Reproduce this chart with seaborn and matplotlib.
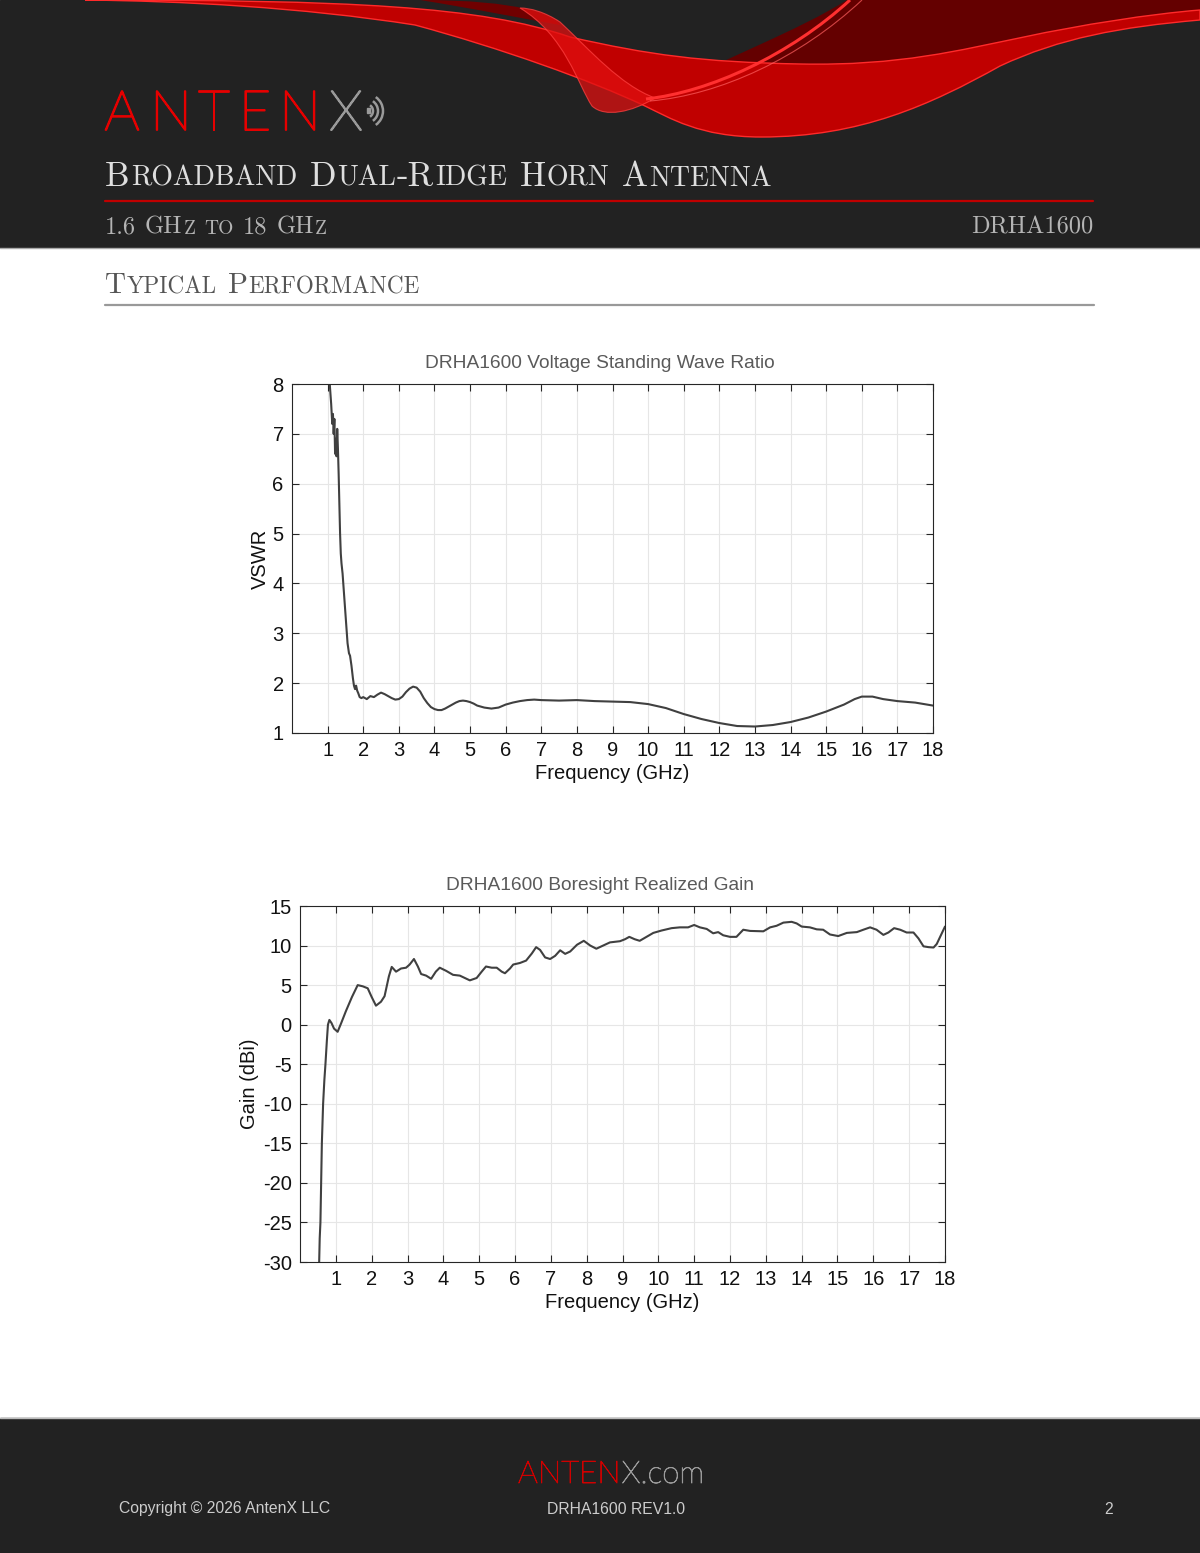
import numpy as np
import pandas as pd
import seaborn as sns
import matplotlib.pyplot as plt
import matplotlib.patheffects as pe
from matplotlib.patches import Rectangle, PathPatch, Arc
from matplotlib.path import Path

# VSWR curve
vswr_freq = [1.03, 1.06, 1.10, 1.13, 1.15, 1.17, 1.19, 1.21, 1.23, 1.25, 1.27, 1.29,
             1.31, 1.33, 1.35, 1.37, 1.39, 1.42, 1.45, 1.48, 1.52, 1.56, 1.60, 1.63,
             1.67, 1.71, 1.74, 1.77, 1.80, 1.83, 1.86, 1.90, 1.95, 2.0, 2.1, 2.2, 2.3,
             2.4, 2.5, 2.6, 2.7, 2.8, 2.9, 3.0, 3.1, 3.2, 3.3, 3.4, 3.5, 3.6, 3.7, 3.8,
             3.9, 4.0, 4.1, 4.2, 4.3, 4.4, 4.5, 4.6, 4.7, 4.8, 4.9, 5.0, 5.1, 5.2, 5.3,
             5.4, 5.5, 5.6, 5.7, 5.8, 5.9, 6.0, 6.2, 6.4, 6.6, 6.8, 7.0, 7.5, 8.0, 8.5,
             9.0, 9.5, 10.0, 10.5, 11.0, 11.5, 12.0, 12.5, 13.0, 13.5, 14.0, 14.5, 15.0,
             15.5, 15.8, 16.0, 16.3, 16.6, 17.0, 17.5, 18.0]
vswr_vals = [8.5, 8.0, 7.6, 7.2, 7.4, 7.0, 7.3, 6.6, 6.9, 6.55, 7.1, 6.7,
             6.2, 5.6, 5.0, 4.6, 4.4, 4.2, 3.9, 3.6, 3.2, 2.8, 2.6, 2.55,
             2.35, 2.1, 1.95, 1.88, 1.95, 1.85, 1.8, 1.72, 1.70, 1.72, 1.68, 1.74, 1.72,
             1.77, 1.81, 1.78, 1.74, 1.70, 1.67, 1.68, 1.73, 1.82, 1.89, 1.93, 1.91, 1.83, 1.70, 1.60,
             1.52, 1.48, 1.46, 1.46, 1.49, 1.53, 1.57, 1.61, 1.64, 1.65, 1.64, 1.62, 1.59, 1.55, 1.53,
             1.51, 1.50, 1.49, 1.50, 1.51, 1.54, 1.57, 1.61, 1.64, 1.66, 1.67, 1.66, 1.65, 1.66, 1.64,
             1.63, 1.62, 1.58, 1.50, 1.38, 1.28, 1.20, 1.14, 1.13, 1.16, 1.22, 1.31, 1.43,
             1.57, 1.68, 1.73, 1.73, 1.68, 1.64, 1.61, 1.55]

# boresight realized gain
gain_freq = [0.53, 0.55, 0.57, 0.59, 0.61, 0.645, 0.68, 0.71, 0.75, 0.78, 0.82, 0.88, 0.95,
             1.05, 1.15, 1.28, 1.45, 1.61, 1.75, 1.89, 2.0, 2.12, 2.26, 2.36, 2.48, 2.56,
             2.68, 2.82, 2.96, 3.06, 3.18, 3.29, 3.38, 3.52, 3.66, 3.79, 3.9, 4.08, 4.27,
             4.46, 4.6, 4.74, 4.93, 5.07, 5.19, 5.35, 5.49, 5.63, 5.72, 5.86, 5.95, 6.14,
             6.31, 6.47, 6.59, 6.70, 6.84, 6.98, 7.12, 7.26, 7.4, 7.54, 7.73, 7.92, 8.1,
             8.27, 8.46, 8.65, 8.93, 9.07, 9.19, 9.34, 9.48, 9.67, 9.86, 10.09, 10.37, 10.6,
             10.83, 11.0, 11.16, 11.35, 11.53, 11.67, 11.81, 12.0, 12.18, 12.37, 12.56, 12.93,
             13.12, 13.3, 13.49, 13.72, 13.86, 14.0, 14.23, 14.42, 14.6, 14.79, 15.02, 15.26,
             15.54, 15.72, 15.91, 16.09, 16.28, 16.42, 16.58, 16.75, 16.93, 17.12, 17.26,
             17.4, 17.54, 17.68, 17.77, 18.0]
gain_vals = [-31, -27, -25, -20, -15, -10, -7, -5, -2, 0, 0.6, 0.2, -0.5,
             -0.9, 0.2, 1.7, 3.5, 5.0, 4.85, 4.6, 3.5, 2.4, 2.9, 3.6, 6.1, 7.3,
             6.7, 7.1, 7.2, 7.6, 8.3, 7.35, 6.4, 6.2, 5.8, 6.7, 7.2, 6.8, 6.3,
             6.2, 5.9, 5.6, 5.9, 6.7, 7.35, 7.2, 7.2, 6.7, 6.5, 7.1, 7.6, 7.8,
             8.1, 9.0, 9.8, 9.45, 8.5, 8.3, 8.7, 9.4, 8.95, 9.25, 10.1, 10.6, 10.0,
             9.6, 10.0, 10.4, 10.55, 10.8, 11.1, 10.8, 10.6, 11.1, 11.6, 11.9, 12.2, 12.3,
             12.3, 12.6, 12.3, 12.1, 11.55, 11.7, 11.3, 11.1, 11.1, 12.0, 11.85, 11.8,
             12.3, 12.5, 12.9, 13.0, 12.8, 12.4, 12.3, 12.05, 12.0, 11.4, 11.2, 11.6,
             11.7, 12.0, 12.3, 12.0, 11.35, 11.65, 12.2, 12.0, 11.65, 11.65, 10.9,
             9.9, 9.8, 9.75, 10.2, 12.4]

freq_ticks = list(range(1, 19))
vswr_ticks = list(range(1, 9))
gain_ticks = list(range(-30, 16, 5))

vswr = pd.DataFrame({"Frequency (GHz)": vswr_freq, "VSWR": vswr_vals})
gain = pd.DataFrame({"Frequency (GHz)": gain_freq, "Gain (dBi)": gain_vals})

sns.set_theme(style="ticks")
plt.rcParams["font.family"] = ["Liberation Sans", "DejaVu Sans"]
plt.rcParams["axes.unicode_minus"] = False

W, H = 1200, 1553
fig = plt.figure(figsize=(W / 100, H / 100), dpi=100)
fig.patch.set_facecolor("white")

# page layer in pixel coordinates (y down)
page = fig.add_axes([0, 0, 1, 1])
page.set_xlim(0, W)
page.set_ylim(H, 0)
page.axis("off")
renderer = fig.canvas.get_renderer()

# header / footer bands
page.add_patch(Rectangle((0, 0), W, 247, color="#222222", zorder=0))
page.add_patch(Rectangle((0, 1418), W, H - 1418, color="#222222", zorder=0))
page.plot([0, W], [247.5, 247.5], color="#aaaaaa", lw=1)
page.plot([0, W], [1418, 1418], color="#bbbbbb", lw=1)

# red ribbon decoration
M, C, L, Z = Path.MOVETO, Path.CURVE4, Path.LINETO, Path.CLOSEPOLY
dark = Path([(847, 0), (1200, 0), (1200, 14), (1120, 22), (1060, 30), (1024, 37),
             (960, 55), (880, 66), (800, 64), (720, 62), (680, 80), (650, 97),
             (720, 60), (800, 30), (847, 0), (847, 0)],
            [M, L, L, C, C, C, C, C, C, C, C, C, C, C, C, Z])
page.add_patch(PathPatch(dark, fc="#640000", ec="none", zorder=1))
band = Path([(85, 0), (350, 0), (480, 6), (570, 37),
             (650, 55), (700, 62), (800, 64),
             (900, 66), (960, 50), (1024, 37),
             (1080, 25), (1150, 14), (1200, 10),
             (1200, 20),
             (1120, 27), (1060, 38), (1000, 66),
             (930, 105), (860, 137), (761, 137),
             (700, 137), (670, 118), (645, 106),
             (590, 80), (500, 48), (415, 25),
             (300, 7), (180, 1), (85, 0), (85, 0)],
            [M, C, C, C, C, C, C, C, C, C, C, C, C, L, C, C, C, C, C, C, C, C, C,
             C, C, C, C, C, C, Z])
page.add_patch(PathPatch(band, fc="#c00000", ec="#ff2a2a", lw=1, zorder=2))
upper = Path([(420, 0), (520, 0), (555, 15), (560, 25),
              (520, 18), (470, 8), (420, 0), (420, 0)],
             [M, C, C, C, C, C, C, Z])
page.add_patch(PathPatch(upper, fc="#700000", ec="none", zorder=2))
fold = Path([(520, 8), (565, 35), (578, 85), (592, 106),
             (605, 118), (632, 112), (655, 98),
             (620, 85), (590, 50), (560, 22),
             (545, 12), (530, 8), (520, 8), (520, 8)],
            [M, C, C, C, C, C, C, C, C, C, C, C, C, Z])
page.add_patch(PathPatch(fold, fc="#e01010", ec="#ff4040", lw=0.8, alpha=0.75, zorder=3))
stroke = Path([(850, 0), (790, 55), (710, 92), (646, 99)], [M, C, C, C])
page.add_patch(PathPatch(stroke, fc="none", ec="#ff3030", lw=2.2, zorder=4))
stroke2 = Path([(862, 0), (800, 58), (720, 95), (650, 101)], [M, C, C, C])
page.add_patch(PathPatch(stroke2, fc="none", ec="#ff6060", lw=0.8, alpha=0.7, zorder=4))

# logo
logo_font = dict(family=["Lato", "DejaVu Sans"], fontweight="light", fontsize=40,
                 ha="center", va="baseline", zorder=5)
red, grey = "#e60000", "#9a9a9a"
for ch, xc in zip("ANTEN", [122, 171, 214, 255, 300]):
    page.text(xc, 130, ch, color=red,
              path_effects=[pe.withStroke(linewidth=1.3, foreground=red)], **logo_font)
page.text(346, 130, "X", color=grey,
          path_effects=[pe.withStroke(linewidth=1.3, foreground=grey)], **logo_font)
page.add_patch(Rectangle((367, 108), 3, 5, color=grey, zorder=5))
for r in [7, 12, 17]:
    page.add_patch(Arc((366, 111), 2 * r, 2 * r, theta1=-55, theta2=55,
                       color=grey, lw=1.8, zorder=5))


def small_caps(text, big, small):
    runs = []
    for ch in text:
        if ch == " ":
            runs.append([" ", big])
            continue
        size = small if ch.islower() else big
        if runs and runs[-1][1] == size and runs[-1][0] != " ":
            runs[-1][0] += ch.upper()
        else:
            runs.append([ch.upper(), size])
    return runs


def put_runs(x, y, runs, color, family="cmr10", gap=1.0, **kw):
    for s, size in runs:
        if s == " ":
            x += size * 0.33 * 100 / 72
            continue
        t = page.text(x, y, s, fontsize=size, color=color, family=family,
                      ha="left", va="baseline", zorder=5, **kw)
        x = t.get_window_extent(renderer).x1 + gap
    return x


put_runs(105, 186, small_caps("Broadband Dual-Ridge Horn Antenna", 25, 20), "#dedede")
page.plot([105, 1093], [201, 201], color="#c00000", lw=1.6, zorder=5)
put_runs(105, 234, small_caps("1.6 GHz to 18 GHz", 17.6, 14), "#b4b4b4")
page.text(1093, 234, "DRHA1600", fontsize=17.6, color="#b4b4b4", family="cmr10",
          ha="right", va="baseline", zorder=5)

put_runs(105, 293, small_caps("Typical Performance", 21, 16.7), "#555555")
page.plot([105, 1094], [305, 305], color="#999999", lw=1.6)

# footer
foot_logo = dict(fontsize=22.5, family=["Lato", "DejaVu Sans"], fontweight="light",
                 ha="left", va="baseline")
t = page.text(518, 1483, "ANTEN", color="#d00000",
              path_effects=[pe.withStroke(linewidth=0.6, foreground="#d00000")], **foot_logo)
x_next = t.get_window_extent(renderer).x1 + 1
page.text(x_next, 1483, "X.com", color=grey,
          path_effects=[pe.withStroke(linewidth=0.6, foreground=grey)], **foot_logo)
foot = dict(fontsize=11.3, color="#cccccc", va="center",
            family=["Liberation Sans Narrow", "Liberation Sans", "DejaVu Sans"])
page.text(119, 1509, "Copyright \u00a9 2026 AntenX LLC", ha="left", **foot)
page.text(616, 1509, "DRHA1600 REV1.0", ha="center", **foot)
page.text(1113, 1509, "2", ha="right", **foot)


def style_axes(ax, yticks):
    ax.set_xlim(0, 18)
    ax.set_xticks(freq_ticks)
    ax.set_yticks(yticks)
    ax.set_ylim(yticks[0], yticks[-1])
    ax.grid(True, color="#e6e6e6", lw=0.8)
    ax.tick_params(direction="in", length=5, width=0.8, top=True, right=True,
                   labelsize=14.5, pad=6, colors="#262626", labelcolor="#111111")
    for sp in ax.spines.values():
        sp.set_visible(True)
        sp.set_color("#262626")
        sp.set_linewidth(0.8)
    ax.set_facecolor("white")


# VSWR chart
ax1 = fig.add_axes([292 / W, 1 - 733 / H, 641 / W, 349 / H])
sns.lineplot(data=vswr, x="Frequency (GHz)", y="VSWR", ax=ax1, color="#404040",
             lw=1.5, estimator=None)
style_axes(ax1, vswr_ticks)
ax1.set_xlabel("Frequency (GHz)", fontsize=14.5, color="#111111")
ax1.set_ylabel("VSWR", fontsize=14.5, color="#111111")
ax1.xaxis.set_label_coords(0.5, -0.088)
ax1.yaxis.set_label_coords(-0.034, 0.5)
page.text(600, 364, "DRHA1600 Voltage Standing Wave Ratio", fontsize=13.8,
          color="#5a5a5a", ha="center", va="center")

# gain chart
ax2 = fig.add_axes([300 / W, 1 - 1262 / H, 645 / W, 356 / H])
sns.lineplot(data=gain, x="Frequency (GHz)", y="Gain (dBi)", ax=ax2, color="#404040",
             lw=1.5, estimator=None)
style_axes(ax2, gain_ticks)
ax2.set_xlabel("Frequency (GHz)", fontsize=14.5, color="#111111")
ax2.set_ylabel("Gain (dBi)", fontsize=14.5, color="#111111")
ax2.xaxis.set_label_coords(0.5, -0.088)
ax2.yaxis.set_label_coords(-0.064, 0.5)
page.text(600, 885, "DRHA1600 Boresight Realized Gain", fontsize=13.8,
          color="#5a5a5a", ha="center", va="center")

fig.savefig("out.png", dpi=100)
